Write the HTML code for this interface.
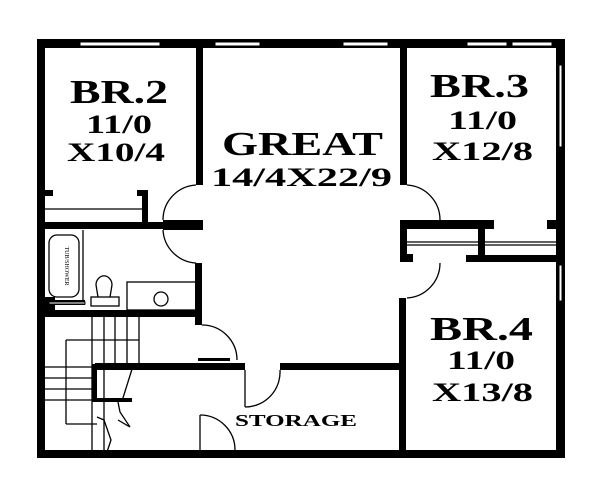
<!DOCTYPE html>
<html><head><style>html,body{margin:0;padding:0;background:#fff;width:600px;height:488px;overflow:hidden}
text{font-family:"Liberation Serif",serif;font-weight:bold;fill:#000;text-anchor:start}</style></head>
<body>
<svg width="600" height="488" viewBox="0 0 600 488" xmlns="http://www.w3.org/2000/svg">
<g fill="#000">
<rect x="37" y="39" width="528" height="9"/>
<rect x="37" y="39" width="8" height="419"/>
<rect x="556" y="39" width="9" height="419"/>
<rect x="37" y="450" width="528" height="8"/>
<rect x="196" y="48" width="7" height="137"/>
<rect x="400" y="48" width="7" height="137"/>
<rect x="45" y="222" width="118" height="7"/>
<rect x="163" y="220" width="40" height="10"/>
<rect x="45" y="190" width="8" height="6"/>
<rect x="137" y="190" width="11" height="6"/>
<rect x="142" y="190" width="6" height="32"/>
<rect x="195" y="263" width="7" height="62"/>
<rect x="45" y="310" width="157" height="7"/>
<rect x="45" y="297" width="10" height="13"/>
<rect x="55" y="300" width="30" height="5"/>
<rect x="95" y="363" width="150" height="7"/>
<rect x="280" y="363" width="125" height="7"/>
<rect x="198" y="358" width="32" height="3"/>
<rect x="400" y="220" width="94" height="9"/>
<rect x="547" y="220" width="10" height="9"/>
<rect x="478" y="220" width="7" height="42"/>
<rect x="466" y="255" width="91" height="7"/>
<rect x="400" y="220" width="7" height="42"/>
<rect x="400" y="254" width="13" height="8"/>
<rect x="399" y="298" width="7" height="155"/>
<rect x="92" y="364" width="5" height="38"/>
<rect x="92" y="398" width="40" height="4"/>
</g>
<g fill="#fff" stroke="#000" stroke-width="1">
<rect x="80" y="42" width="80" height="4"/>
<rect x="215" y="42" width="45" height="4"/>
<rect x="343" y="42" width="45" height="4"/>
<rect x="467" y="42" width="40" height="4"/>
<rect x="512" y="42" width="40" height="4"/>
<rect x="559" y="65" width="3" height="82"/>
<rect x="559" y="265" width="3" height="36"/>
<rect x="49" y="302" width="36" height="2"/>
</g>
<g fill="none" stroke="#000" stroke-width="1.3">
<line x1="45" y1="209" x2="142" y2="209"/>
<line x1="407" y1="242" x2="557" y2="242"/>
<line x1="407" y1="245" x2="557" y2="245"/>
<path d="M196 185 A35 35 0 0 0 163 220"/>
<path d="M196 263 A35 35 0 0 1 163 230"/>
<path d="M407 185 A35 35 0 0 1 440 220"/>
<path d="M407 298 A35 35 0 0 0 440 263"/>
<path d="M202 325 A35 35 0 0 1 237 360"/>
<path d="M245 407 A35 35 0 0 0 280 370"/>
<line x1="245" y1="370" x2="245" y2="407"/>
<path d="M200 415 A35 35 0 0 1 235 450"/>
<line x1="200" y1="415" x2="200" y2="450"/>
<line x1="83" y1="230" x2="83" y2="300"/>
<rect x="49" y="235" width="30" height="62" rx="8"/>
<rect x="91" y="297" width="28" height="9"/>
<path d="M98 297 L96 285 A7 8 0 1 1 112 285 L110 297"/>
<rect x="127" y="282" width="70" height="28"/>
<circle cx="161" cy="299" r="7"/>
<line x1="92" y1="317" x2="92" y2="450"/>
<line x1="104" y1="317" x2="104" y2="450"/>
<line x1="115" y1="317" x2="115" y2="364"/>
<line x1="127" y1="317" x2="127" y2="364"/>
<line x1="139" y1="317" x2="139" y2="364"/>
<line x1="66" y1="340" x2="139" y2="340"/>
<line x1="66" y1="340" x2="66" y2="424"/>
<line x1="66" y1="424" x2="97" y2="424"/>
<line x1="45" y1="367" x2="92" y2="367"/>
<line x1="45" y1="378" x2="92" y2="378"/>
<line x1="45" y1="389" x2="92" y2="389"/>
<line x1="45" y1="400" x2="92" y2="400"/>
<path d="M133 366 L122 401"/>
<path d="M97 417 L104 420 L111 440 L106 455"/>
<path d="M118 402 L120 412 L130 427 L118 420"/>
</g>
<text x="70" y="103" font-size="34" textLength="98" lengthAdjust="spacingAndGlyphs">BR.2</text>
<text x="86" y="133" font-size="26" textLength="66" lengthAdjust="spacingAndGlyphs">11/0</text>
<text x="67" y="161" font-size="26" textLength="98" lengthAdjust="spacingAndGlyphs">X10/4</text>
<text x="222" y="155" font-size="34" textLength="161" lengthAdjust="spacingAndGlyphs">GREAT</text>
<text x="211" y="186" font-size="26" textLength="181" lengthAdjust="spacingAndGlyphs">14/4X22/9</text>
<text x="430" y="97" font-size="34" textLength="99" lengthAdjust="spacingAndGlyphs">BR.3</text>
<text x="448" y="129" font-size="26" textLength="69" lengthAdjust="spacingAndGlyphs">11/0</text>
<text x="432" y="160" font-size="26" textLength="101" lengthAdjust="spacingAndGlyphs">X12/8</text>
<text x="430" y="340" font-size="34" textLength="103" lengthAdjust="spacingAndGlyphs">BR.4</text>
<text x="447" y="369" font-size="26" textLength="68" lengthAdjust="spacingAndGlyphs">11/0</text>
<text x="432" y="401" font-size="26" textLength="101" lengthAdjust="spacingAndGlyphs">X13/8</text>
<text x="235" y="426" font-size="17" textLength="122" lengthAdjust="spacingAndGlyphs">STORAGE</text>
<text x="65" y="266" font-size="6" transform="rotate(90 65 266)" style="font-weight:normal;text-anchor:middle">TUB/SHOWER</text>
</svg>
</body></html>
